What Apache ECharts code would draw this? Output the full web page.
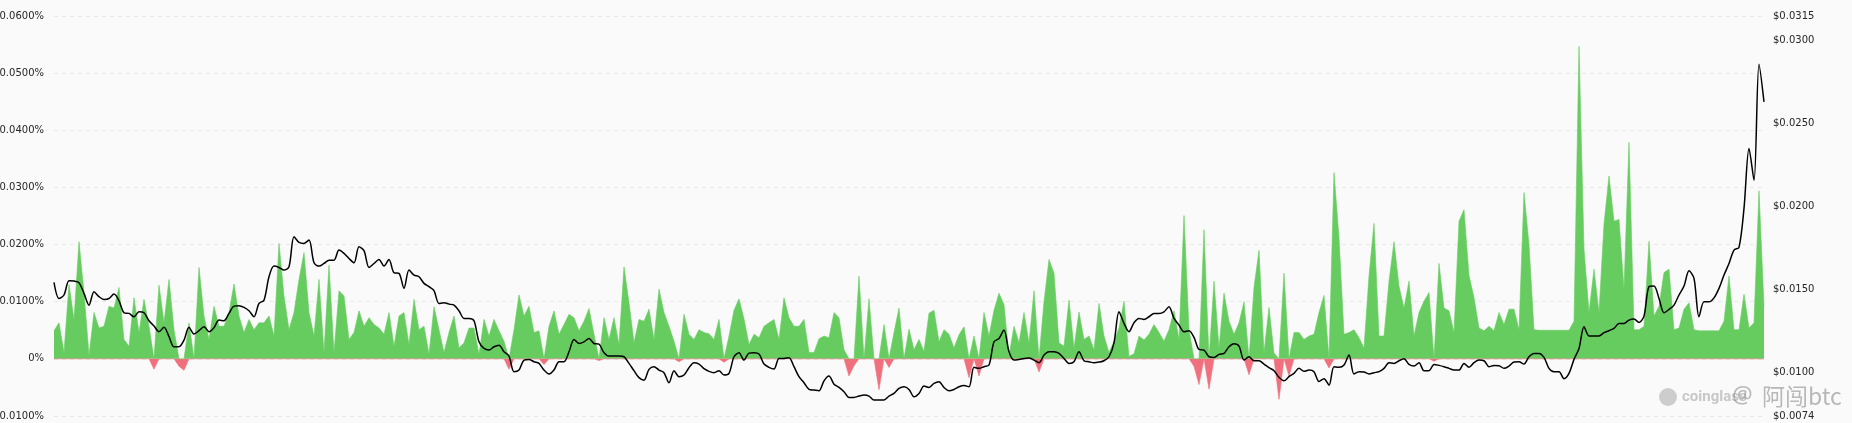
<!DOCTYPE html>
<html><head><meta charset="utf-8">
<script src="https://cdn.jsdelivr.net/npm/echarts@6/dist/echarts.min.js"></script>
<style>html,body{margin:0;padding:0;background:#fafafa;}#c{width:1852px;height:423px;}</style>
</head><body><div id="c"></div>
<script>
// Funding rate (%), one value per period
const fundingRate = [
0.0049,0.0063,0.0011,0.0130,0.0069,0.0205,0.0116,0.0006,0.0081,0.0054,
0.0057,0.0092,0.0089,0.0125,0.0034,0.0022,0.0107,0.0046,0.0104,0.0057,
-0.0018,0.0129,0.0063,0.0139,0.0051,-0.0013,-0.0020,0.0063,0.0000,0.0160,
0.0075,0.0034,0.0092,0.0057,0.0057,0.0081,0.0131,0.0075,0.0046,0.0069,
0.0051,0.0063,0.0063,0.0075,0.0040,0.0202,0.0110,0.0051,0.0081,0.0139,
0.0186,0.0081,0.0040,0.0139,0.0011,0.0164,0.0011,0.0119,
0.0110,0.0034,0.0046,0.0084,0.0057,0.0072,0.0060,0.0054,0.0043,0.0081,
0.0022,0.0075,0.0081,0.0025,0.0104,0.0051,0.0057,0.0008,0.0091,0.0051,
0.0011,0.0046,0.0075,0.0019,0.0028,0.0054,0.0054,0.0008,0.0069,0.0040,
0.0069,0.0049,0.0031,-0.0018,0.0051,0.0112,0.0075,0.0092,0.0046,0.0049,
-0.0010,0.0057,0.0084,0.0043,0.0060,0.0078,0.0072,0.0049,0.0066,0.0088,
0.0043,-0.0003,0.0072,0.0034,0.0072,0.0025,0.0161,
0.0098,0.0028,0.0069,0.0066,0.0087,0.0034,0.0122,0.0081,0.0057,0.0031,
-0.0005,0.0078,0.0043,0.0034,0.0051,0.0046,0.0044,0.0034,0.0069,-0.0006,
0.0040,0.0085,0.0105,0.0070,0.0025,0.0043,0.0037,0.0057,0.0063,0.0069,
0.0034,0.0107,0.0072,0.0057,0.0057,0.0069,0.0011,0.0011,0.0035,0.0040,
0.0037,0.0081,0.0072,0.0016,-0.0030,-0.0012,0.0145,0.0000,0.0105,0.0000,
-0.0054,0.0060,-0.0015,0.0046,0.0089,0.0000,0.0052,
0.0016,0.0034,0.0013,0.0080,0.0085,0.0030,0.0051,0.0043,0.0019,0.0042,
0.0056,-0.0033,0.0040,-0.0030,0.0081,0.0040,0.0085,0.0115,0.0095,0.0005,
0.0057,0.0028,0.0081,0.0028,0.0119,-0.0023,0.0100,0.0174,0.0150,0.0028,
0.0022,0.0103,0.0019,0.0082,0.0034,0.0040,0.0016,0.0097,0.0040,0.0011,
0.0031,0.0054,0.0101,0.0004,0.0009,0.0040,0.0033,0.0043,0.0060,0.0046,
0.0031,0.0051,0.0084,0.0034,0.0251,0.0051,-0.0013,
-0.0045,0.0226,-0.0053,0.0136,0.0019,0.0115,0.0066,0.0043,0.0063,0.0100,
-0.0028,0.0125,0.0190,0.0011,0.0090,0.0010,-0.0071,0.0150,-0.0030,0.0046,
0.0046,0.0034,0.0040,0.0043,0.0081,0.0111,-0.0016,0.0326,0.0212,0.0043,
0.0046,0.0051,0.0037,0.0019,0.0145,0.0237,0.0040,0.0040,0.0136,0.0205,
0.0127,0.0089,0.0136,0.0040,0.0081,0.0101,0.0116,-0.0004,0.0167,0.0089,
0.0084,0.0046,0.0241,0.0261,0.0146,0.0107,0.0054,
0.0049,0.0057,0.0049,0.0081,0.0060,0.0087,0.0087,0.0051,0.0291,0.0200,
0.0051,0.0050,0.0050,0.0050,0.0050,0.0050,0.0050,0.0050,0.0066,0.0547,
0.0192,0.0081,0.0157,0.0081,0.0236,0.0320,0.0241,0.0244,0.0122,0.0379,
0.0051,0.0051,0.0057,0.0206,0.0075,0.0092,0.0151,0.0157,0.0051,0.0054,
0.0087,0.0098,0.0051,0.0049,0.0049,0.0049,0.0049,0.0049,0.0066,0.0145,
0.0051,0.0051,0.0113,0.0054,0.0063,0.0294,0.0092
];
// Price (USD), one value per period
const price = [
0.01545,0.01448,0.01469,0.01555,0.01553,0.01543,0.01479,0.01408,0.01489,0.01459,
0.01442,0.01448,0.01475,0.01434,0.01362,0.01358,0.01338,0.01368,0.01362,0.01314,
0.01282,0.01248,0.01274,0.01218,0.01157,0.01157,0.01197,0.01274,0.01234,0.01254,
0.01278,0.01248,0.01272,0.01318,0.01314,0.01358,0.01402,0.01404,0.01394,0.01374,
0.01338,0.01418,0.01438,0.01579,0.01643,0.01635,0.01619,0.01639,0.01820,0.01786,
0.01780,0.01800,0.01663,0.01643,0.01659,0.01679,0.01679,0.01740,
0.01720,0.01689,0.01663,0.01760,0.01736,0.01635,0.01659,0.01683,0.01643,0.01683,
0.01603,0.01599,0.01509,0.01619,0.01589,0.01579,0.01539,0.01519,0.01495,0.01418,
0.01422,0.01414,0.01408,0.01374,0.01328,0.01328,0.01314,0.01187,0.01147,0.01137,
0.01157,0.01167,0.01127,0.01101,0.01007,0.01017,0.01077,0.01081,0.01067,0.01057,
0.01017,0.00993,0.01017,0.01067,0.01067,0.01127,0.01201,0.01177,0.01187,0.01207,
0.01177,0.01173,0.01121,0.01101,0.01101,0.01101,0.01097,
0.01057,0.01013,0.00971,0.00956,0.01021,0.01037,0.01017,0.01001,0.00940,0.01013,
0.00977,0.00987,0.01031,0.01061,0.01053,0.01025,0.01009,0.01001,0.01013,0.00987,
0.00997,0.01097,0.01121,0.01077,0.01119,0.01121,0.01113,0.01053,0.01033,0.01023,
0.01087,0.01087,0.01091,0.01037,0.00977,0.00940,0.00900,0.00896,0.00892,0.00952,
0.00981,0.00932,0.00912,0.00886,0.00852,0.00852,0.00860,0.00866,0.00860,0.00836,
0.00836,0.00836,0.00860,0.00876,0.00906,0.00916,0.00900,
0.00856,0.00876,0.00920,0.00912,0.00936,0.00946,0.00912,0.00892,0.00900,0.00916,
0.00924,0.00916,0.01033,0.01027,0.01037,0.01047,0.01187,0.01207,0.01258,0.01127,
0.01077,0.01081,0.01087,0.01089,0.01077,0.01061,0.01107,0.01127,0.01127,0.01117,
0.01087,0.01057,0.01067,0.01127,0.01073,0.01067,0.01061,0.01065,0.01073,0.01097,
0.01181,0.01368,0.01298,0.01248,0.01302,0.01328,0.01322,0.01338,0.01358,0.01358,
0.01368,0.01398,0.01328,0.01288,0.01248,0.01254,0.01214,
0.01141,0.01137,0.01097,0.01093,0.01111,0.01117,0.01157,0.01175,0.01161,0.01077,
0.01097,0.01073,0.01073,0.01053,0.01031,0.01013,0.00973,0.00952,0.00977,0.00997,
0.01027,0.01009,0.01017,0.01007,0.00948,0.00965,0.00926,0.01037,0.01033,0.01047,
0.01107,0.00993,0.01007,0.01005,0.00993,0.01001,0.01007,0.01027,0.01061,0.01057,
0.01073,0.01085,0.01051,0.01041,0.01061,0.01013,0.01013,0.01051,0.01045,0.01037,
0.01027,0.01017,0.01017,0.01057,0.01033,0.01061,0.01077,
0.01073,0.01037,0.01045,0.01043,0.01027,0.01041,0.01065,0.01067,0.01053,0.01097,
0.01117,0.01117,0.01093,0.01027,0.01007,0.01007,0.00965,0.00997,0.01081,0.01147,
0.01278,0.01222,0.01222,0.01222,0.01242,0.01254,0.01268,0.01298,0.01298,0.01318,
0.01324,0.01304,0.01342,0.01519,0.01523,0.01448,0.01362,0.01382,0.01408,0.01469,
0.01523,0.01615,0.01569,0.01338,0.01428,0.01428,0.01452,0.01509,0.01589,0.01659,
0.01740,0.01756,0.01991,0.02352,0.02160,0.02860,0.02633
];
const categories = fundingRate.map((_, i) => String(i));
const leftMin = -0.01, leftMax = 0.06, leftInterval = 0.01;
const rightMin = 0.0074, rightMax = 0.0315;
const rightTickValues = [0.0074, 0.0100, 0.0150, 0.0200, 0.0250, 0.0300, 0.0315];

const positiveRate = fundingRate.map(v => v > 0 ? v : 0);
const negativeRate = fundingRate.map(v => v < 0 ? v : 0);

const chart = echarts.init(document.getElementById('c'), null, {renderer: 'canvas'});
chart.setOption({
  backgroundColor: '#fafafa',
  animation: false,
  grid: {left: 54, right: 88, top: 16, bottom: 7, containLabel: false, outerBoundsMode: 'none'},
  xAxis: {type: 'category', data: categories, boundaryGap: false, show: false},
  yAxis: [{
    type: 'value', min: leftMin, max: leftMax, interval: leftInterval, position: 'left',
    axisLine: {show: false}, axisTick: {show: false},
    axisLabel: {margin: 10, color: '#262626', fontSize: 10, fontFamily: 'DejaVu Sans',
      formatter: v => Math.abs(v) < 1e-12 ? '0%' : v.toFixed(4) + '%'},
    splitLine: {show: true, lineStyle: {color: '#e8e8e8', type: [4, 4], width: 1}}
  }, {
    type: 'value', min: rightMin, max: rightMax, position: 'right',
    axisLine: {show: false}, axisTick: {show: false}, splitLine: {show: false},
    axisLabel: {margin: 9, color: '#262626', fontSize: 10, fontFamily: 'DejaVu Sans',
      customValues: rightTickValues, formatter: v => '$' + v.toFixed(4)}
  }],
  series: [{
    name: 'Funding Rate +', type: 'line', yAxisIndex: 0, data: positiveRate,
    symbol: 'none', lineStyle: {width: 0.6, color: '#66cc60'}, itemStyle: {color: '#66cc60'},
    areaStyle: {opacity: 1, color: '#66cc60', origin: 0}, z: 1
  }, {
    name: 'Funding Rate -', type: 'line', yAxisIndex: 0, data: negativeRate,
    symbol: 'none', lineStyle: {width: 0.6, color: '#f0707e'}, itemStyle: {color: '#f0707e'},
    areaStyle: {opacity: 1, color: '#f0707e', origin: 0}, z: 1
  }, {
    name: 'Price', type: 'line', yAxisIndex: 1, data: price,
    symbol: 'none', smooth: 0.3, lineStyle: {color: '#000', width: 1.5}, itemStyle: {color: '#000'}, z: 3
  }],
  graphic: [
    {type: 'circle', shape: {cx: 1668, cy: 397, r: 9}, style: {fill: 'rgba(150,150,150,0.45)'}, z: 10},
    {type: 'text', x: 1682, y: 397, style: {text: 'coinglass', font: 'bold 15px Roboto', fill: 'rgba(150,150,150,0.5)', verticalAlign: 'middle'}, z: 10},
    {type: 'text', x: 1732, y: 396, style: {text: '@', font: '23px "Noto Sans"', fill: 'rgba(140,140,140,0.6)', verticalAlign: 'middle'}, z: 10},
    {type: 'text', x: 1762, y: 396, style: {text: '阿闯btc', font: '23px "Noto Sans CJK SC"', fill: 'rgba(140,140,140,0.6)', verticalAlign: 'middle'}, z: 10}
  ]
});
</script></body></html>
